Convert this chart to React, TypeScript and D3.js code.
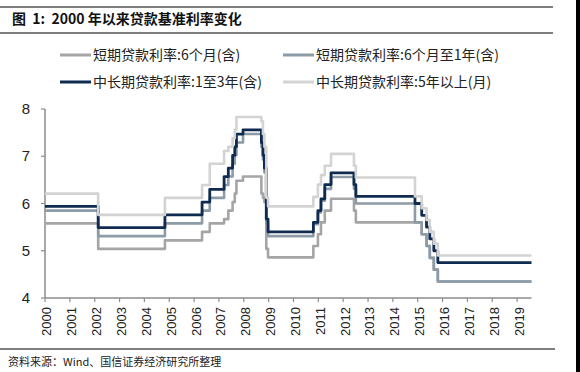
import * as d3 from 'd3'

// dates on which the benchmark rates changed (first = start of chart, last = end of chart)
const changeDates = [
  '2000-01-01', '2002-02-21', '2004-10-29', '2006-04-28', '2006-08-19',
  '2007-03-18', '2007-05-19', '2007-07-21', '2007-08-22', '2007-09-15',
  '2007-12-21', '2008-09-16', '2008-10-09', '2008-10-30', '2008-11-27',
  '2008-12-23', '2010-10-20', '2010-12-26', '2011-02-09', '2011-04-06',
  '2011-07-07', '2012-06-08', '2012-07-06', '2014-11-22', '2015-03-01',
  '2015-05-11', '2015-06-28', '2015-08-26', '2015-10-24', '2019-08-01',
]

const rate6m = [
  5.58, 5.04, 5.22, 5.4, 5.58, 5.67, 5.85, 6.03, 6.21, 6.48,
  6.57, 6.21, 6.12, 6.03, 5.04, 4.86, 5.1, 5.35, 5.6, 5.85,
  6.1, 5.85, 5.6, 5.6, 5.35, 5.1, 4.85, 4.6, 4.35, 4.35,
]
const rate6m1y = [
  5.85, 5.31, 5.58, 5.85, 6.12, 6.39, 6.57, 6.84, 7.02, 7.29,
  7.47, 7.2, 6.93, 6.66, 5.58, 5.31, 5.56, 5.81, 6.06, 6.31,
  6.56, 6.31, 6.0, 5.6, 5.35, 5.1, 4.85, 4.6, 4.35, 4.35,
]
const rate1y3y = [
  5.94, 5.49, 5.76, 6.03, 6.3, 6.57, 6.75, 7.02, 7.2, 7.47,
  7.56, 7.29, 7.02, 6.75, 5.67, 5.4, 5.6, 5.85, 6.1, 6.4,
  6.65, 6.4, 6.15, 6.0, 5.75, 5.5, 5.25, 5.0, 4.75, 4.75,
]
const rate5y = [
  6.21, 5.76, 6.12, 6.39, 6.84, 7.11, 7.2, 7.38, 7.56, 7.83,
  7.83, 7.74, 7.47, 7.2, 6.12, 5.94, 6.14, 6.4, 6.6, 6.8,
  7.05, 6.8, 6.55, 6.15, 5.9, 5.65, 5.4, 5.15, 4.9, 4.9,
]

const seriesNames = [
  '短期贷款利率:6个月(含)',
  '短期贷款利率:6个月至1年(含)',
  '中长期贷款利率:1至3年(含)',
  '中长期贷款利率:5年以上(月)',
]
const seriesColors = ['#a5a5a5', '#8d9ba6', '#0f2b50', '#d3d3d3']
const yTicks = [4, 5, 6, 7, 8]
const years = d3.range(2000, 2020)

const W = 580
const H = 372
const plot = { left: 45, right: 531.5, top: 109, bottom: 298 }

export default function App() {
  const parse = d3.timeParse('%Y-%m-%d')
  const dates = changeDates.map((d) => parse(d) as Date)
  const x = d3
    .scaleTime()
    .domain([new Date(2000, 0, 1), new Date(2019, 7, 1)])
    .range([plot.left, plot.right])
  const y = d3.scaleLinear().domain([4, 8]).range([plot.bottom, plot.top])

  const allSeries = [rate6m, rate6m1y, rate1y3y, rate5y]
  const line = d3
    .line<[Date, number]>()
    .x((d) => x(d[0]))
    .y((d) => y(d[1]))
    .curve(d3.curveStepAfter)

  const font = '"Liberation Sans", Arial, "Noto Sans CJK SC", sans-serif'
  const cjk = '"Noto Sans CJK SC", "Liberation Sans", sans-serif'
  const axisColor = '#8c8c8c'

  const legend = [
    { x: 60, y: 55 },
    { x: 283, y: 55 },
    { x: 60, y: 82 },
    { x: 283, y: 82 },
  ]

  return (
    <svg
      width={W}
      height={H}
      style={{ position: 'absolute', left: 0, top: 0, background: '#fff' }}
    >
      <rect width={W} height={H} fill="#fff" />
      <rect x={576} y={0} width={4} height={H} fill="#000" />

      {/* title block */}
      <line x1={0} x2={553} y1={7} y2={7} stroke="#000" strokeWidth={1.2} />
      <text
        x={12}
        y={24}
        fontFamily={cjk}
        fontSize={14}
        fontWeight="bold"
        fill="#111"
        style={{ whiteSpace: 'pre' }}
      >
        {'图  1:  2000 年以来贷款基准利率变化'}
      </text>
      <line x1={0} x2={553} y1={33} y2={33} stroke="#000" strokeWidth={1.2} />

      {/* legend */}
      {legend.map((p, i) => (
        <g key={i}>
          <line
            x1={p.x}
            x2={p.x + 31}
            y1={p.y}
            y2={p.y}
            stroke={seriesColors[i]}
            strokeWidth={3}
          />
          <text x={p.x + 33} y={p.y + 5} fontFamily={cjk} fontSize={14} fill="#222">
            {seriesNames[i]}
          </text>
        </g>
      ))}

      {/* y axis */}
      <line
        x1={plot.left}
        x2={plot.left}
        y1={plot.top}
        y2={plot.bottom}
        stroke={axisColor}
        strokeWidth={1.5}
      />
      {yTicks.map((t) => (
        <g key={t}>
          <line
            x1={plot.left - 4}
            x2={plot.left}
            y1={y(t)}
            y2={y(t)}
            stroke={axisColor}
            strokeWidth={1.2}
          />
          <text
            x={30}
            y={y(t) + 5}
            textAnchor="end"
            fontFamily={font}
            fontSize={15}
            fill="#222"
          >
            {t}
          </text>
        </g>
      ))}

      {/* x axis */}
      <line
        x1={plot.left}
        x2={plot.right}
        y1={plot.bottom}
        y2={plot.bottom}
        stroke={axisColor}
        strokeWidth={1.5}
      />
      {years.map((yr) => {
        const xp = x(new Date(yr, 0, 1))
        return (
          <g key={yr}>
            <line
              x1={xp}
              x2={xp}
              y1={plot.bottom}
              y2={plot.bottom + 4}
              stroke={axisColor}
              strokeWidth={1.2}
            />
            <text
              transform={`translate(${xp + 3}, 307) rotate(-90)`}
              textAnchor="end"
              dominantBaseline="middle"
              fontFamily={font}
              fontSize={13}
              fill="#222"
            >
              {yr}
            </text>
          </g>
        )
      })}

      {/* series */}
      {allSeries.map((vals, i) => (
        <path
          key={i}
          d={line(dates.map((d, j) => [d, vals[j]] as [Date, number])) || ''}
          fill="none"
          stroke={seriesColors[i]}
          strokeWidth={i === 2 ? 2.8 : 2.6}
          strokeLinejoin="round"
        />
      ))}

      {/* source */}
      <line x1={0} x2={555} y1={349} y2={349} stroke="#000" strokeWidth={1.2} />
      <text x={8} y={366} fontFamily={cjk} fontSize={11} fill="#222">
        资料来源：Wind、国信证券经济研究所整理
      </text>
    </svg>
  )
}
